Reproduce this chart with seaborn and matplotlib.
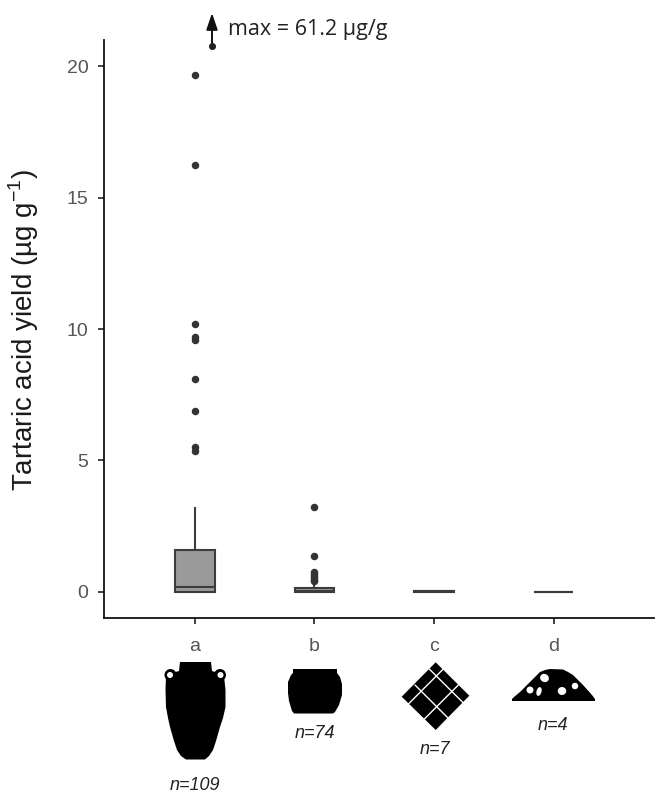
import matplotlib
matplotlib.use('Agg')  # Non-interactive backend
import matplotlib.pyplot as plt
import pandas as pd
import seaborn as sns
from matplotlib.patches import Circle, Ellipse, Polygon
from matplotlib.transforms import Affine2D

# yields, box parts first, then the outliers
yield_a = [0.0] * 11 + [0.02, 0.03, 0.05, 0.07, 0.09, 0.11, 0.13, 0.15, 0.16, 0.17,
                        0.25, 0.35, 0.45, 0.6, 0.75, 0.9, 1.05, 1.2, 1.4, 1.6,
                        3.25, 5.35, 5.5, 6.9, 8.1, 9.6, 9.7, 10.2, 16.25, 19.65]
yield_b = [0.0] * 12 + [0.01, 0.01, 0.02, 0.02, 0.03, 0.03, 0.04, 0.04, 0.04, 0.05, 0.05,
                        0.06, 0.07, 0.08, 0.09, 0.1, 0.11, 0.12, 0.13, 0.14, 0.15, 0.15,
                        0.2, 0.25, 0.3,
                        0.4, 0.47, 0.54, 0.61, 0.68, 0.75, 1.35, 3.25]
yield_c = [0.0, 0.01, 0.02, 0.03, 0.04, 0.05, 0.06]
yield_d = [0.0, 0.0, 0.01, 0.01]

categories = ['a', 'b', 'c', 'd']
sample_labels = ['n=109', 'n=74', 'n=7', 'n=4']
top_outlier = 20.75
y_ticks = [0, 5, 10, 15, 20]

TICK_GREY = '#555555'
EDGE = '#3c3c3c'
W, H = 656, 793

df = pd.DataFrame({
    'group': ['a'] * len(yield_a) + ['b'] * len(yield_b) + ['c'] * len(yield_c) + ['d'] * len(yield_d),
    'value': yield_a + yield_b + yield_c + yield_d,
})

sns.set_theme(style='ticks')
plt.rcParams['font.family'] = ['Liberation Sans', 'DejaVu Sans']
plt.rcParams['mathtext.fontset'] = 'custom'
plt.rcParams['mathtext.rm'] = 'Liberation Sans'

fig = plt.figure(figsize=(W / 100, H / 100), dpi=100)
ax = fig.add_axes([104 / W, 1 - 618 / H, 550 / W, 578 / H])

sns.boxplot(data=df, x='group', y='value', order=categories, ax=ax, width=0.33,
            color='#9a9a9a', saturation=1, linecolor=EDGE, linewidth=1.5, showcaps=False,
            flierprops={'marker': 'o', 'markersize': 4.4, 'markerfacecolor': '#333333',
                        'markeredgecolor': '#333333'})

# the top outlier sits next to its box, where the arrow starts
sns.scatterplot(x=[0.142], y=[top_outlier], ax=ax, color='#222222', s=26, linewidth=0,
                clip_on=False, zorder=5)

ax.set_xlim(-0.76, 3.84)
ax.set_ylim(-0.99, 20.99)
ax.set_yticks(y_ticks)
ax.set_xlabel('')
ax.set_ylabel('')
ax.tick_params(axis='both', labelsize=14, labelcolor=TICK_GREY, color='#222222', width=1.2, length=4.2)
ax.tick_params(axis='y', pad=7)
ax.tick_params(axis='x', pad=10.5)
sns.despine(ax=ax)
for side in ['left', 'bottom']:
    ax.spines[side].set_linewidth(1.3)
    ax.spines[side].set_color('#111111')

# pixel coordinates of the reference, for the annotation and the vessel icons
px = Affine2D().scale(1 / W, -1 / H).translate(0, 1) + fig.transFigure

fig.text(24, 330, r'Tartaric acid yield (µg g$^{\mathrm{-1}}$)', transform=px, rotation=90,
         ha='center', va='center', fontsize=20, color='#1a1a1a')

ax.annotate('', xy=(212, 13), xytext=(212, 46), xycoords=px, textcoords=px,
            arrowprops={'arrowstyle': '-|>,head_length=0.5,head_width=0.17', 'color': '#111111',
                        'lw': 1.4, 'mutation_scale': 20, 'shrinkA': 0, 'shrinkB': 0})
fig.text(228, 29, 'max = 61.2 µg/g', transform=px, ha='left', va='center', fontsize=15.5,
         family='Open Sans', color='#222222')

label_xy = [(195, 785), (315, 733), (435, 749), (553, 725)]
for text, (x, y) in zip(sample_labels, label_xy):
    fig.text(x, y, text, transform=px, ha='center', va='center', fontsize=13,
             style='italic', color='#222222')


def add_shape(points, color='black'):
    fig.add_artist(Polygon(points, closed=True, facecolor=color, edgecolor='none', transform=px))


def add_round(x, y, r, color):
    fig.add_artist(Circle((x, y), r, facecolor=color, edgecolor='none', transform=px))


# amphora
add_shape([(180, 662), (211, 662), (212, 671), (218, 673), (224, 676), (225.5, 690), (225.5, 707),
           (223, 718), (220, 727), (216, 741), (213, 750), (209, 756), (205, 759.5), (186, 759.5),
           (181, 756), (177, 750), (174, 741), (170, 727), (168, 718), (166, 707), (165.5, 690),
           (166, 676), (172, 673), (179, 671)])
add_round(170.5, 675, 6, 'black')
add_round(220, 675, 6, 'black')
add_round(170, 675, 3, 'white')
add_round(220.5, 675, 3, 'white')

# jar
add_shape([(293, 669), (337, 669), (337, 673), (340, 677), (342, 684), (342, 695), (339, 705),
           (335, 712), (333, 713.5), (294, 713.5), (292, 711), (289, 701), (288, 693), (288, 682),
           (291, 675), (293, 673)])

# tile, a black diamond crossed by white lines
add_shape([(435.7, 662.3), (469.3, 695.7), (435.7, 730), (401.7, 696.7)])
tile_lines = [((429.3, 669), (462.7, 702.3)), ((415, 685), (447.5, 717.5)),
              ((443.3, 669), (408.7, 703.7)), ((458.3, 685), (424.2, 719.2))]
for start, end in tile_lines:
    fig.add_artist(plt.Line2D([start[0], end[0]], [start[1], end[1]], color='white', lw=1.0, transform=px))

# mound with pale inclusions
add_shape([(512, 699), (514, 697), (520, 692), (530, 682), (540, 672), (545, 670), (550, 669),
           (563, 669.5), (568, 672), (573, 675), (583, 685), (592, 695), (595, 699), (595, 701),
           (512, 701)])
for x, y, w, h, a in [(544.5, 678, 9, 8, 30), (530, 690, 7, 7, 0), (539, 691.5, 5, 9, 15),
                      (562, 691, 8.5, 8, 0), (575, 686, 6.5, 6.5, 0)]:
    fig.add_artist(Ellipse((x, y), w, h, angle=a, facecolor='white', edgecolor='none', transform=px))

fig.savefig('out.png', dpi=100, facecolor='white')
plt.close()
